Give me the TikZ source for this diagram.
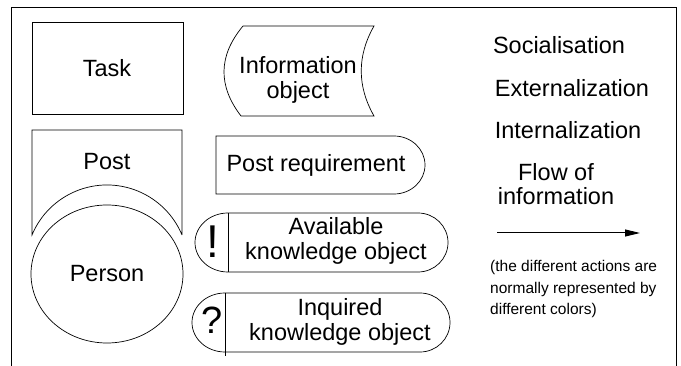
\documentclass[tikz,border=0pt]{standalone}
\usepackage{fontspec}
\setmainfont{Liberation Sans}
\usetikzlibrary{arrows.meta}
\tikzset{
  lbl/.style={font=\fontsize{23.5}{24.5}\selectfont, align=center, inner sep=0pt},
  note/.style={font=\fontsize{15.5}{21.5}\selectfont, align=left, inner sep=0pt, anchor=west},
  shp/.style={draw, line width=0.7pt},
}

\begin{document}
\begin{tikzpicture}[x=1pt,y=-1pt]
\useasboundingbox (0,0) rectangle (681,366);
% frame
\draw[line width=0.9pt] (11.5,366)--(11.5,7.5)--(676.5,7.5)--(676.5,366);
% Task
\draw[shp] (32,22) rectangle (183,114);
\node[lbl] (task) at (107,68) {Task};
% Post + Person
\draw[shp] (182,235)--(182,130)--(32,130)--(32,235)
  arc[start angle=-157.4, end angle=-22.6, radius=81.25];
\node[lbl] (post) at (107,162) {Post};
\draw[shp] (107,274) ellipse [x radius=76, y radius=69];
\node[lbl] (person) at (107,274) {Person};
% Information object
\draw[shp] (243,26)--(374,26) .. controls (357,56) and (357,86) .. (374,116)
  --(241,116) .. controls (218,86) and (218,56) .. (243,26) -- cycle;
\node[lbl] (info) at (298,80) {Information\\object};
% Post requirement
\draw[shp] (216,136)--(394,136) arc[start angle=-90, end angle=90, x radius=31, y radius=29]
  --(216,194)--cycle;
\node[lbl] (postreq) at (316,165) {Post requirement};
% Available knowledge object
\draw[shp] (228,213)--(418,213) arc[start angle=-90, end angle=90, x radius=30, y radius=29.5]
  --(228,272) arc[start angle=90, end angle=270, x radius=33, y radius=29.5];
\draw[shp] (228,213)--(228,272);
\node[font=\fontsize{46}{46}\selectfont, inner sep=0pt] (bang) at (213,242) {!};
\node[lbl] (avail) at (336,241) {Available\\knowledge object};
% Inquired knowledge object
\draw[shp] (225,293)--(420,293) arc[start angle=-90, end angle=90, x radius=30, y radius=29.5]
  --(225,352) arc[start angle=90, end angle=270, x radius=33, y radius=29.5];
\draw[shp] (225,293)--(225,356);
\node[font=\fontsize{38}{38}\selectfont, inner sep=0pt] (quest) at (212,320) {?};
\node[lbl] (inquired) at (340,322) {Inquired\\knowledge object};
% legend of actions
\node[lbl] (social) at (559,45) {Socialisation};
\node[lbl] (extern) at (572,88) {Externalization};
\node[lbl] (intern) at (568,130) {Internalization};
\node[lbl] (flow) at (556,184) {Flow of\\information};
\coordinate (flowA) at (497,233);
\coordinate (flowB) at (640,233);
\draw[line width=1pt, -{Triangle[length=15pt, width=7pt]}] (flowA) -- (flowB);
\node[note] (remark) at (490,289) {(the different actions are\\normally represented by\\different colors)};
\end{tikzpicture}
\end{document}
